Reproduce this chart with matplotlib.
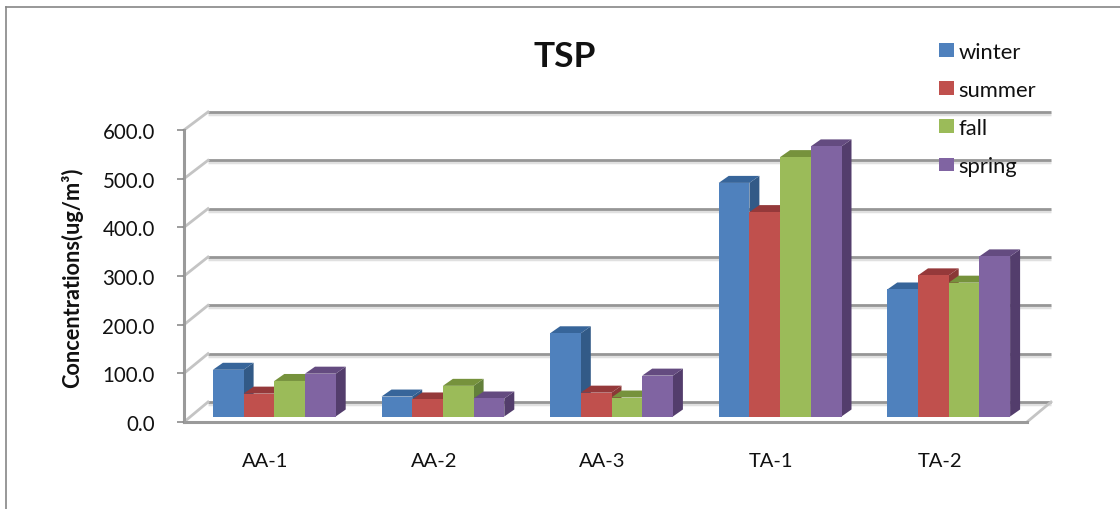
import matplotlib

matplotlib.use("Agg")

import matplotlib.pyplot as plt
import numpy as np
from matplotlib.lines import Line2D
from matplotlib.patches import Patch

# Data
sites = ["AA-1", "AA-2", "AA-3", "TA-1", "TA-2"]
seasons = ["winter", "summer", "fall", "spring"]
winter = [96, 41, 171, 480, 261]
summer = [47, 35, 49, 420, 290]
fall = [73, 63, 39, 533, 275]
spring = [88, 37, 84, 555, 329]
y_ticks = [0, 100, 200, 300, 400, 500, 600]

# Face, top and side colours per season
front_colors = ["#4F81BD", "#C0504D", "#9BBB59", "#8064A2"]
top_colors = ["#37659A", "#95393A", "#76923C", "#644B80"]
side_colors = ["#325A87", "#8A3836", "#63803A", "#533D6C"]

W, H = 1120, 510
plt.rcParams["font.family"] = ["Lato", "DejaVu Sans"]

fig = plt.figure(figsize=(W / 100, H / 100), dpi=100)
ax = fig.add_axes([184 / W, 1 - 423 / H, (1027 - 184) / W, (423 - 131) / H])
ax.set_xlim(-0.5, 4.5)
ax.set_ylim(0, 600)

# One screen pixel in data units, used for the fake 3D depth
px_x = 5 / (1027 - 184)
px_y = 600 / (423 - 131)
wall_dx, wall_dy = 24 * px_x, 20 * px_y
plane_dx, plane_dy = 6 * px_x, 5.5 * px_y
depth_dx, depth_dy = 10 * px_x, 7 * px_y
bar_w = 30.7 * px_x

# Back wall gridlines and the slanted lines on the side wall
for v in y_ticks:
    wy = v + wall_dy - (v / 600) * 2 * px_y
    ax.plot([-0.5 + wall_dx, 4.5 + wall_dx], [wy - 2 * px_y] * 2, color="#e0e0e0",
            lw=2.5, clip_on=False, zorder=1, solid_capstyle="butt")
    ax.plot([-0.5 + wall_dx, 4.5 + wall_dx], [wy] * 2, color="#969696",
            lw=2.0, clip_on=False, zorder=1.1, solid_capstyle="butt")
    ax.plot([-0.5, -0.5 + wall_dx], [v, wy], color="#c4c4c4",
            lw=2, clip_on=False, zorder=1.2)
ax.plot([4.5, 4.5 + wall_dx], [0, wall_dy], color="#c4c4c4", lw=2,
        clip_on=False, zorder=1.2)

# Bars: side, top, then front so that the next bar covers the previous one
series = [winter, summer, fall, spring]
z = 2.0
for i in range(len(sites)):
    for j, values in enumerate(series):
        left = i - 2 * bar_w + j * bar_w + plane_dx
        val = values[i]
        base = plane_dy
        right = left + bar_w
        ax.fill(
            [right, right + depth_dx, right + depth_dx, right],
            [base, base + depth_dy, base + val + depth_dy, base + val],
            color=side_colors[j], lw=0, clip_on=False, zorder=z,
        )
        ax.fill(
            [left, left + depth_dx, right + depth_dx, right],
            [base + val, base + val + depth_dy, base + val + depth_dy, base + val],
            color=top_colors[j], lw=0, clip_on=False, zorder=z + 0.01,
        )
        ax.bar(left, val, width=bar_w, bottom=base, align="edge",
               color=front_colors[j], lw=0, zorder=z + 0.02)
        z += 0.1

# Axes
for name in ["top", "right"]:
    ax.spines[name].set_visible(False)
for name in ["left", "bottom"]:
    ax.spines[name].set_color("#9a9a9a")
    ax.spines[name].set_linewidth(2.2)
    ax.spines[name].set_zorder(1.5)

ax.set_xticks(np.arange(len(sites)) - 3 * px_x)
ax.set_xticklabels(sites)
ax.tick_params(axis="x", length=0, pad=21.5, labelsize=14.5, colors="#111111")
ax.set_yticks(y_ticks)
ax.set_yticklabels([f"{v:.1f}" for v in y_ticks])
ax.tick_params(axis="y", length=5, width=1.2, color="#8c8c8c", pad=16,
               labelsize=14.8, labelcolor="#111111")

fig.text(72 / W, 1 - 278 / H, "Concentrations(ug/m³)", rotation=90, ha="center",
         va="center", fontsize=15.7, fontweight="bold", color="#111111")
fig.text(565 / W, 1 - 57 / H, "TSP", ha="center", va="center", fontsize=25.5,
         fontweight="bold", color="#111111")

# Legend
handles = [Patch(color=c, lw=0) for c in front_colors]
leg = ax.legend(
    handles, seasons, loc="upper left", bbox_to_anchor=(932 / W, 1 - 36 / H),
    bbox_transform=fig.transFigure, frameon=False, fontsize=15.8,
    handlelength=0.68, handleheight=0.6, handletextpad=0.22, labelspacing=0.83,
    borderpad=0.3, borderaxespad=0,
)
leg.set_zorder(50)
for t in leg.get_texts():
    t.set_color("#111111")

# Chart area border, top and left edges only
fig.add_artist(Line2D([6 / W, 1], [1 - 7.5 / H] * 2, color="#868686", lw=1.2))
fig.add_artist(Line2D([6 / W, 6 / W], [0, 1 - 7.5 / H], color="#868686", lw=1.2))

fig.savefig("out.png", dpi=100)
